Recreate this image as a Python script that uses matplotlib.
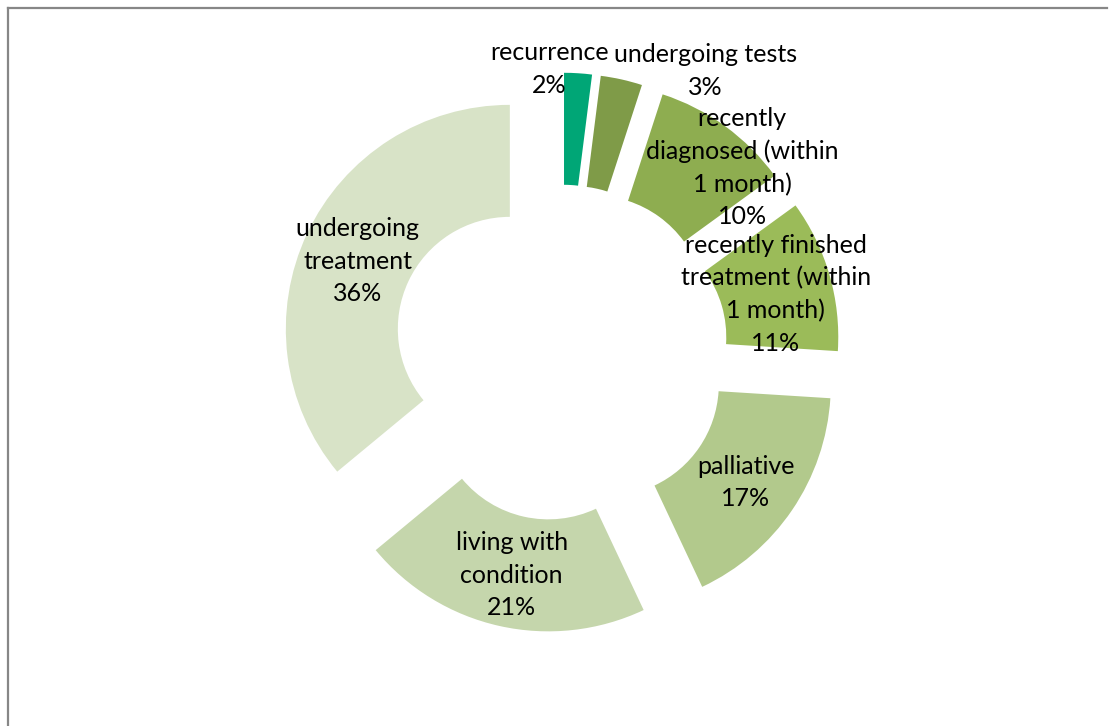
import numpy as np
import matplotlib
matplotlib.use("Agg")
import matplotlib.pyplot as plt
from matplotlib.lines import Line2D

categories = ["recurrence", "undergoing tests", "recently\ndiagnosed (within\n1 month)",
              "recently finished\ntreatment (within\n1 month)", "palliative",
              "living with\ncondition", "undergoing\ntreatment"]
values = [2, 3, 10, 11, 17, 21, 36]
colors = ["#00A676", "#7F9B48", "#8EAD50", "#9BBB59", "#B2C98C", "#C5D6AC", "#D8E3C7"]

W, H = 1109, 726
PX = 224.0          # pixels per data unit (outer radius)
CX, CY = 560.5, 352.7

plt.rcParams['font.family'] = ['Lato', 'DejaVu Sans']
fig = plt.figure(figsize=(W / 100, H / 100), dpi=100)
ax = fig.add_axes([0, 0, 1, 1])

explode = [0.25] * len(values)
wedges, _ = ax.pie(values, colors=colors, startangle=90, counterclock=False,
                   explode=explode, radius=1.0,
                   wedgeprops=dict(width=0.5, edgecolor='none'))

ax.set_xlim(-CX / PX, (W - CX) / PX)
ax.set_ylim((CY - H) / PX, CY / PX)
ax.set_aspect('auto')
ax.axis('off')

# label nudges (pixels) for crowded labels
nudges = {0: (-25, 60), 1: (96, 63), 2: (50, 4)}
total = sum(values)
cum = 0
for i, (lab, v) in enumerate(zip(categories, values)):
    mid = (cum + v / 2) / total * 360.0
    cum += v
    th = np.deg2rad(90 - mid)
    r = 0.25 + 0.75
    x = r * np.cos(th)
    y = r * np.sin(th)
    dx, dy = nudges.get(i, (0, -4))
    x += dx / PX
    y += dy / PX
    pct = f"{v}%"
    ax.text(x, y, f"{lab}\n{pct}", ha='center', va='center', fontsize=18,
            linespacing=1.5, color='black')

# chart frame (gray border, open at right/bottom edges)
fig.add_artist(Line2D([8 / W, 8 / W], [0, 1 - 8 / H], transform=fig.transFigure,
                      color='#878787', lw=1.6))
fig.add_artist(Line2D([8 / W, 1107 / W], [1 - 8 / H, 1 - 8 / H], transform=fig.transFigure,
                      color='#878787', lw=1.6))

fig.savefig("out.png", dpi=100)
